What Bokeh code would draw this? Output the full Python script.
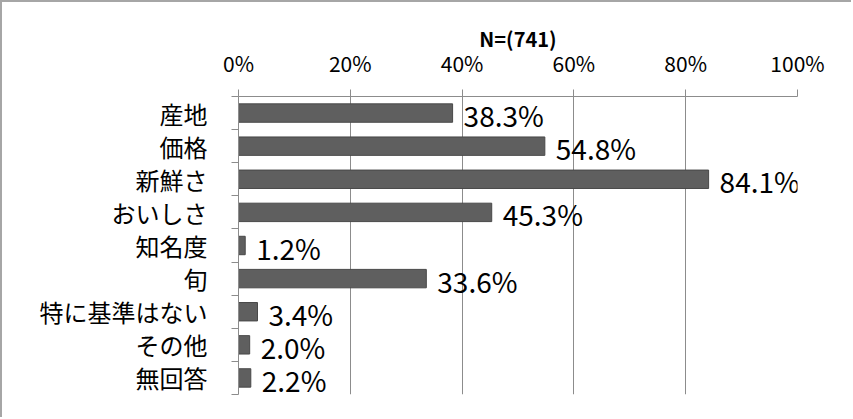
from bokeh.plotting import figure
from bokeh.models import Range1d, FixedTicker, PrintfTickFormatter, ColumnDataSource
from bokeh.embed import file_html
from bokeh.resources import INLINE
from bokeh.core.properties import value

categories = ["産地", "価格", "新鮮さ", "おいしさ", "知名度", "旬", "特に基準はない", "その他", "無回答"]
percents = [38.3, 54.8, 84.1, 45.3, 1.2, 33.6, 3.4, 2.0, 2.2]
x_ticks = [0, 20, 40, 60, 80, 100]
title_text = "N=(741)"

FONT = "Noto Sans CJK JP"
GRAY = "#8c8c8c"

positions = [i + 0.5 for i in range(len(categories))]
labels = [f"{v:.1f}%" for v in percents]
src = ColumnDataSource(data=dict(y=positions, x=percents, label=labels))

p = figure(width=851, height=417, output_backend="svg", toolbar_location=None,
           x_range=Range1d(0, 100), y_range=Range1d(len(categories), 0),
           x_axis_location="above",
           min_border_left=236, min_border_right=56, min_border_top=94, min_border_bottom=25)
p.styles = {"border-left": "2px solid #a6a6a6", "border-top": "2px solid #a6a6a6"}
p.outline_line_color = None
p.background_fill_color = "white"
p.border_fill_color = "white"

p.hbar(y="y", right="x", left=0, height=0.556, source=src,
       fill_color="#5f5f5f", line_color="#484848", line_width=1)

p.text(x="x", y="y", text="label", source=src, x_offset=11, y_offset=2,
       text_font=value(FONT), text_font_size="28px", text_baseline="middle",
       text_align="left", text_color="black")

# x axis (top)
xa = p.xaxis[0]
xa.ticker = FixedTicker(ticks=x_ticks)
xa.formatter = PrintfTickFormatter(format="%d%%")
xa.major_tick_in = 0
xa.major_tick_out = 7
xa.minor_tick_line_color = None
xa.axis_line_color = GRAY
xa.major_tick_line_color = GRAY
xa.major_label_text_font = FONT
xa.major_label_text_font_size = "21px"
xa.major_label_text_color = "black"
xa.major_label_standoff = 12
xa.axis_label = title_text
xa.axis_label_text_font = FONT
xa.axis_label_text_font_size = "20px"
xa.axis_label_text_font_style = "bold"
xa.axis_label_text_color = "black"
xa.axis_label_standoff = -8

# y axis (left), labels at category centers, ticks between categories
ya = p.yaxis[0]
ya.ticker = FixedTicker(ticks=positions, minor_ticks=list(range(len(categories) + 1)))
ya.major_label_overrides = {pos: c for pos, c in zip(positions, categories)}
ya.major_tick_line_color = None
ya.major_tick_in = 0
ya.major_tick_out = 0
ya.minor_tick_in = 0
ya.minor_tick_out = 7
ya.minor_tick_line_color = GRAY
ya.axis_line_color = GRAY
ya.major_label_text_font = FONT
ya.major_label_text_font_size = "24px"
ya.major_label_text_color = "black"
ya.major_label_standoff = 24

p.xgrid.ticker = FixedTicker(ticks=x_ticks)
p.xgrid.grid_line_color = GRAY
p.ygrid.grid_line_color = None

open("out.html", "w").write(file_html(p, INLINE))
